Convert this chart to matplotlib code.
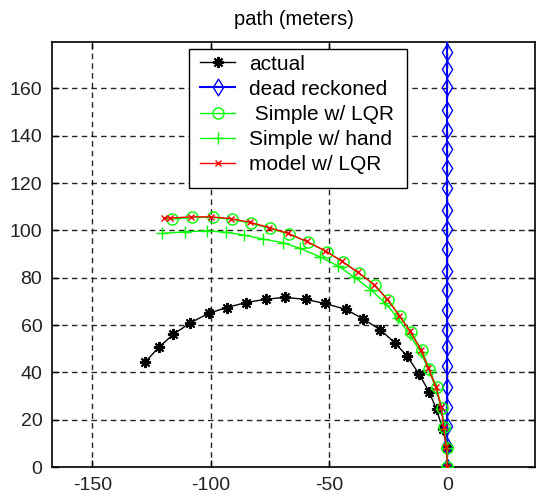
import matplotlib
matplotlib.use("Agg")
import matplotlib.pyplot as plt
from matplotlib.patches import Rectangle
from matplotlib.path import Path

# Path estimates in meters (x east, y north)
actual_x = [0, -0.3, -2.0, -4.6, -7.7, -11.9, -17.0, -22.2, -28.5, -35.5, -42.8,
            -51.7, -59.8, -68.6, -76.6, -85.0, -93.2, -100.9, -108.6, -115.7, -121.7, -127.6]
actual_y = [0, 8.5, 16.2, 24.3, 31.7, 39.2, 46.8, 52.5, 58.1, 62.5, 66.6,
            69.1, 70.8, 71.7, 70.9, 69.5, 67.4, 64.9, 60.9, 56.1, 50.8, 44.4]

dead_x = [0.0] * 23
dead_y = [0, 9, 17.5, 25.5, 34, 42.5, 50.5, 58, 66.5, 75, 83, 92, 100.5, 108.5,
          118, 126.5, 134.5, 142.5, 151, 160.5, 168, 175.5, 184]

lqr_x = [0, -0.3, -1.5, -2.4, -4.6, -7.7, -10.9, -15.5, -20.0, -25.0, -30.6,
         -37.5, -44.2, -51.0, -59.0, -66.8, -74.9, -83.0, -91.1, -99.2, -107.9, -116.4]
lqr_y = [0, 8.2, 16.7, 25.1, 33.6, 41.6, 49.4, 57.1, 63.7, 70.5, 76.9,
         82.0, 86.7, 91.0, 95.0, 98.4, 100.8, 103.0, 104.7, 105.5, 105.5, 104.7]

hand_x = [0, -0.3, -1.2, -2.5, -4.7, -7.8, -11.3, -16.0, -20.8, -26.2, -32.5,
          -39.3, -46.1, -53.8, -62.2, -69.5, -77.7, -85.9, -93.5, -101.6, -110.8, -120.6]
hand_y = [0, 8.0, 16.2, 24.5, 32.8, 40.8, 48.6, 56.0, 62.8, 69.3, 75.0,
          80.2, 84.9, 88.8, 92.4, 94.8, 96.3, 98.0, 99.2, 99.8, 99.4, 98.7]

model_x = [0, -0.4, -1.6, -2.6, -4.8, -8.0, -11.2, -15.8, -20.3, -25.4, -31.0,
           -37.8, -44.6, -51.5, -59.4, -67.2, -75.3, -83.4, -91.6, -99.8, -108.4, -117.0, -119.8]
model_y = [0, 8.3, 16.8, 25.2, 33.7, 41.7, 49.6, 57.3, 64.0, 70.8, 77.1,
           82.3, 87.0, 91.3, 95.3, 98.7, 101.2, 103.4, 105.0, 105.7, 105.7, 105.2, 105.1]

labels = ["actual", "dead reckoned", " Simple w/ LQR", "Simple w/ hand", "model w/ LQR"]
x_ticks = [-150, -100, -50, 0]
y_ticks = [0, 20, 40, 60, 80, 100, 120, 140, 160]

plt.rcParams["font.family"] = ["Liberation Sans", "DejaVu Sans"]
plt.rcParams["font.size"] = 14
plt.rcParams["axes.unicode_minus"] = False

W, H = 536, 497
fig = plt.figure(figsize=(W / 100, H / 100), dpi=100)
ax_l, ax_r, ax_t, ax_b = 52, 535, 42, 467
ax = fig.add_axes([ax_l / W, (H - ax_b) / H, (ax_r - ax_l) / W, (ax_b - ax_t) / H])


def to_axes(px, py):
    return (px - ax_l) / (ax_r - ax_l), (ax_b - py) / (ax_b - ax_t)


# tall diamond marker
diamond = Path([(0, 1), (0.62, 0), (0, -1), (-0.62, 0), (0, 1)],
               [Path.MOVETO, Path.LINETO, Path.LINETO, Path.LINETO, Path.CLOSEPOLY])

lw = 1.0
ax.plot(actual_x, actual_y, color="black", marker=(8, 2, 0), markersize=8,
        markeredgewidth=1.4, linewidth=lw, label=labels[0], zorder=3)
ax.plot(dead_x, dead_y, color="blue", marker=diamond, markersize=12, markerfacecolor="none",
        markeredgewidth=1.0, linewidth=1.5, label=labels[1], zorder=3)
ax.plot(lqr_x, lqr_y, color="#00ff00", marker="o", markersize=8, markerfacecolor="none",
        markeredgewidth=1.0, linewidth=lw, label=labels[2], zorder=3)
ax.plot(hand_x, hand_y, color="#00ff00", marker="+", markersize=9,
        markeredgewidth=1.0, linewidth=lw, label=labels[3], zorder=3)
ax.plot(model_x, model_y, color="red", marker="x", markersize=5,
        markeredgewidth=1.0, linewidth=lw, label=labels[4], zorder=4)

ax.set_xlim(-167, 37)
ax.set_ylim(0, 179.6)
ax.set_xticks(x_ticks)
ax.set_yticks(y_ticks)
ax.grid(True, color="black", linestyle=(0, (4, 3)), linewidth=1.0, alpha=0.85)
ax.tick_params(direction="in", top=True, right=True, length=5, width=1.0,
               labelsize=14, pad=7, colors="black", labelcolor="#222222")
for s in ax.spines.values():
    s.set_linewidth(1.2)
    s.set_color("black")

ax.set_title("path (meters)", fontsize=14.5, pad=12)

# legend box drawn separately so its padding can be set on each side
x0, y0 = to_axes(189, 188)
x1, y1 = to_axes(407, 49)
ax.add_patch(Rectangle((x0, y0), x1 - x0, y1 - y0, transform=ax.transAxes,
                       facecolor="white", edgecolor="black", linewidth=1.0,
                       zorder=5, clip_on=False))
lx, ly = to_axes(200, 54.5)
leg = ax.legend(loc="upper left", bbox_to_anchor=(lx, ly), borderaxespad=0,
                frameon=False, handlelength=1.7, handletextpad=0.67,
                labelspacing=0.3, borderpad=0, fontsize=15)
leg.set_zorder(6)

fig.savefig("out.png", dpi=100)
